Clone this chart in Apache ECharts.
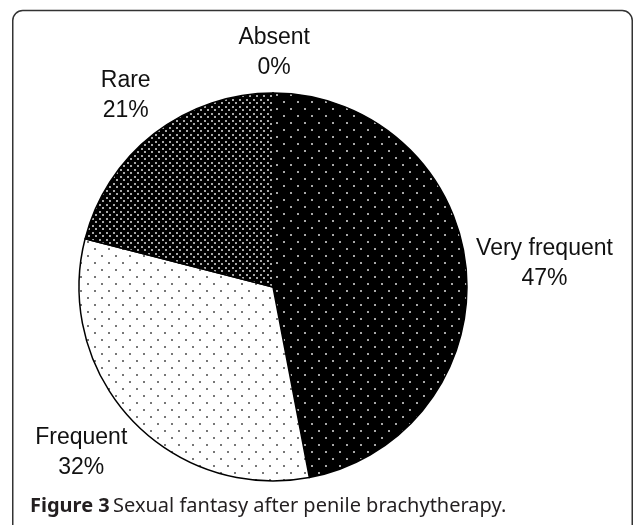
<!DOCTYPE html>
<html>
<head>
<meta charset="utf-8">
<script src="https://cdn.jsdelivr.net/npm/echarts@6/dist/echarts.min.js"></script>
<style>
  html, body { margin: 0; padding: 0; background: #fff; }
  #chart { width: 634px; height: 525px; }
</style>
</head>
<body>
<div id="chart"></div>
<script>
  // data
  const categories = ['Very frequent', 'Frequent', 'Rare', 'Absent']
  const percents = [47, 32, 21, 0]

  // small nudges for the labels, [dx, dy] in px
  const labelNudge = [[0, -4], [3, 26], [17, -42], [37, -30]]

  // dotted fills like the old excel patterns
  function dotPattern(size, bg, dot, spots) {
    const c = document.createElement('canvas')
    c.width = size
    c.height = size
    const ctx = c.getContext('2d')
    ctx.fillStyle = bg
    ctx.fillRect(0, 0, size, size)
    ctx.fillStyle = dot
    spots.forEach(function(p) {
      ctx.fillRect(p[0], p[1], 2, 2)
    })
    return { image: c, repeat: 'repeat' }
  }

  const fills = [
    dotPattern(14, '#000', '#a8a8a8', [[3, 3], [10, 10]]),
    dotPattern(14, '#fff', '#777', [[3, 3], [10, 10]]),
    dotPattern(7, '#000', '#a8a8a8', [[1, 1], [4, 4]]),
    '#000'
  ]

  const seriesData = categories.map(function(name, i) {
    return {
      name: name,
      value: percents[i],
      itemStyle: { color: fills[i] }
    }
  })

  const chart = echarts.init(document.getElementById('chart'))
  chart.setOption({
    animation: false,
    graphic: [{
      type: 'rect',
      shape: { x: 12.75, y: 10.5, width: 619.5, height: 560, r: 10 },
      style: { fill: 'none', stroke: '#333', lineWidth: 1.5 },
      silent: true
    }, {
      type: 'text',
      left: 30,
      top: 496,
      style: {
        text: '{b|Figure 3} {n|Sexual fantasy after penile brachytherapy.}',
        rich: {
          b: { fontFamily: 'Noto Sans', fontSize: 20, fontWeight: 'bold', fill: '#231f20' },
          n: { fontFamily: 'Noto Sans', fontSize: 20, fill: '#231f20' }
        }
      }
    }],
    series: [{
      type: 'pie',
      center: [273, 287],
      radius: 194,
      startAngle: 90,
      clockwise: true,
      data: seriesData,
      itemStyle: {
        borderColor: '#000',
        borderWidth: 1.5
      },
      emphasis: { disabled: true },
      label: {
        show: true,
        position: 'outside',
        distanceToLabelLine: 0,
        formatter: '{t|{b}}\n{t|{d}%}',
        rich: {
          t: {
            fontFamily: 'Liberation Sans',
            fontSize: 23,
            lineHeight: 30,
            color: '#111',
            align: 'center'
          }
        }
      },
      labelLine: { show: false, length: 10, length2: 0 },
      labelLayout: function(p) {
        const r = p.labelRect
        const n = labelNudge[p.dataIndex]
        return {
          x: r.x + r.width / 2 + n[0],
          y: r.y + r.height / 2 + n[1],
          align: 'center',
          verticalAlign: 'middle'
        }
      }
    }]
  })
</script>
</body>
</html>
